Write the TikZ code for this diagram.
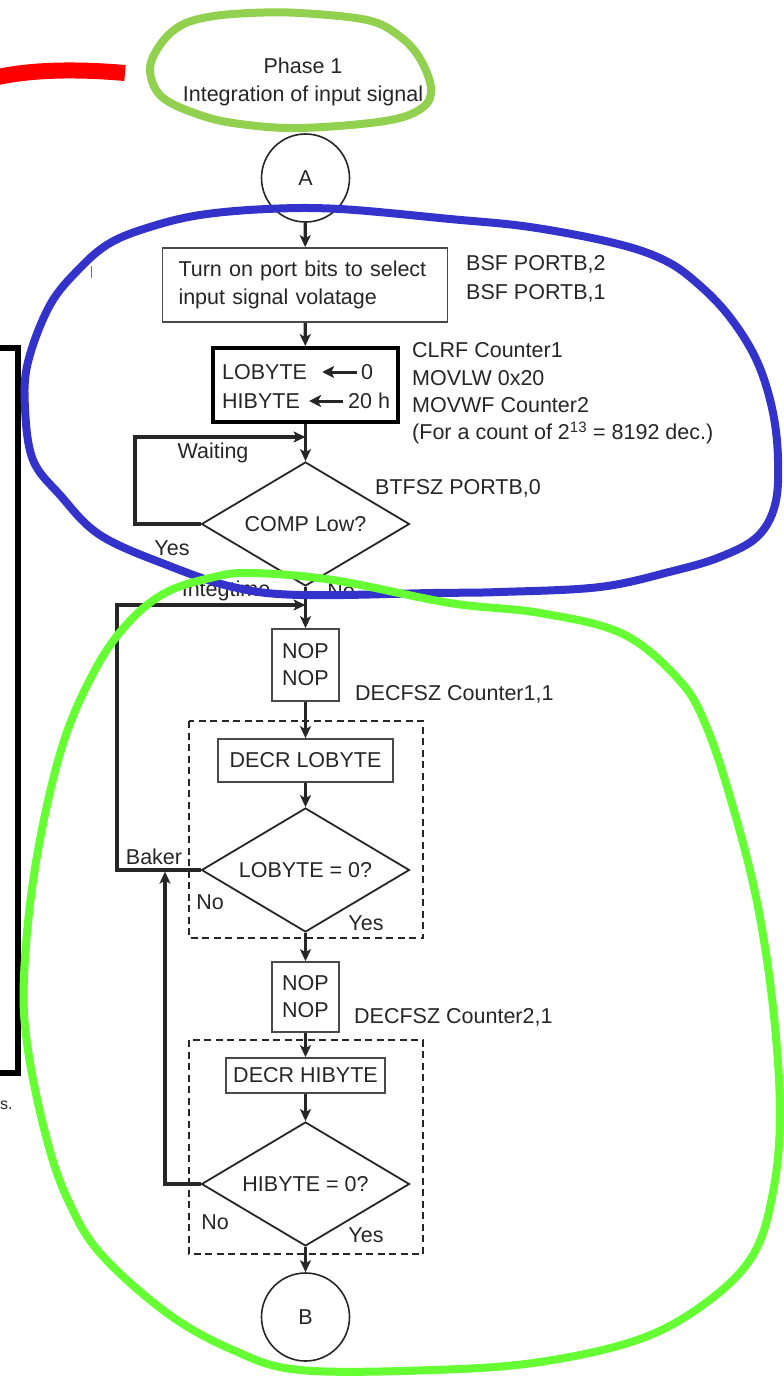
\documentclass[tikz,border=0pt]{standalone}
\usepackage{fontspec}
\setmainfont{Liberation Sans}
\usetikzlibrary{shapes.geometric,arrows.meta}
\definecolor{ink}{HTML}{262626}
\definecolor{frame}{HTML}{4A4A4A}
\definecolor{markred}{HTML}{FF0000}
\definecolor{markblue}{HTML}{3333CC}
\definecolor{markgreen}{HTML}{66FF33}
\definecolor{marklime}{HTML}{92D050}
\begin{document}
\begin{tikzpicture}[x=1pt,y=-1pt,
  font=\fontsize{21.5}{28}\selectfont, text=ink,
  txt/.style={inner sep=0pt, text height=15.4pt, text depth=0pt},
  procbox/.style={draw=frame, line width=1.7pt, inner sep=0pt},
  connector/.style={draw=ink, circle, line width=1.6pt, inner sep=0pt, minimum size=88pt},
  decision/.style={draw=ink, diamond, line width=1.8pt, inner sep=0pt,
    aspect=1.68, minimum width=208pt, minimum height=124pt},
  flow/.style={draw=ink, line width=3.2pt, -{Stealth[length=12pt,width=11pt,inset=3pt]}},
  setarrow/.style={draw=ink, line width=3pt, -{Stealth[length=12pt,width=12pt,inset=3pt]}},
  group/.style={draw=ink, line width=2.3pt, dash pattern=on 7pt off 4.5pt},
  hilite/.style={line width=8pt, line join=round},
]
\useasboundingbox (0,0) rectangle (784,1384);

% ---- title and entry connector
\node[inner sep=0pt, align=center] (title) at (303,82) {Phase 1\\Integration of input signal};
\node[connector] (A) at (305.5,178) {A};

% ---- port selection
\node[procbox, minimum width=285pt, minimum height=74pt, text width=253pt,
      inner xsep=16pt, align=left] (b1) at (305,285)
      {Turn on port bits to select\\input signal volatage};
\node[txt, anchor=west] (bsf2) at (466,263) {BSF PORTB,2};
\node[txt, anchor=west] (bsf1) at (466,292) {BSF PORTB,1};

% ---- counter initialisation
\node[draw=black, line width=3.8pt, minimum width=185pt, minimum height=74pt, inner sep=0pt] (b2) at (305.5,385) {};
\node[txt, anchor=west] (lo) at (222,372) {LOBYTE};
\node[txt, anchor=west] (lov) at (361,372) {0};
\node[txt, anchor=west] (hi) at (222,401) {HIBYTE};
\node[txt, anchor=west] (hiv) at (348,401) {20 h};
\draw[setarrow] ([xshift=-4pt]lov.west) -- ([xshift=15pt]lo.east);
\draw[setarrow] ([xshift=-5pt]hiv.west) -- ([xshift=9pt]hi.east);

\node[txt, anchor=west] (c1) at (412,350) {CLRF Counter1};
\node[txt, anchor=west] (c2) at (412,378) {MOVLW 0x20};
\node[txt, anchor=west] (c3) at (412,405) {MOVWF Counter2};
\node[txt, anchor=west] (c4) at (412,432) {(For a count of 2\textsuperscript{13} = 8192 dec.)};

% ---- wait for comparator
\node[decision] (d1) at (305.5,524) {COMP Low?};
\node[txt, anchor=west] (btfsz) at (375,487) {BTFSZ PORTB,0};
\coordinate (wj) at (305.5,437);
\node[txt] (waiting) at (213,451) {Waiting};
\node[txt] (yes1) at (172,548) {Yes};
\node[txt] (integ) at (226,589) {Integtime};
\node[txt] (no1) at (341,591) {No};

% ---- low byte loop
\node[procbox, minimum width=67pt, minimum height=72pt, align=center,
      font=\fontsize{21.5}{27}\selectfont] (nop1) at (305.5,665) {NOP\\NOP};
\node[txt, anchor=west] (dec1) at (355,693) {DECFSZ Counter1,1};
\draw[group] (189,721) rectangle (423,938);
\node[procbox, minimum width=175pt, minimum height=43pt] (dlo) at (305.5,760.5) {DECR LOBYTE};
\node[decision] (d2) at (305.5,870) {LOBYTE = 0?};
\node[txt] (baker) at (154,857) {Baker};
\node[txt] (no2) at (210,902) {No};
\node[txt] (yes2) at (366,923) {Yes};
\coordinate (ij) at (305.5,605);

% ---- high byte loop
\node[procbox, minimum width=67pt, minimum height=70pt, align=center,
      font=\fontsize{21.5}{27}\selectfont] (nop2) at (305.5,997) {NOP\\NOP};
\node[txt, anchor=west] (dec2) at (354,1016) {DECFSZ Counter2,1};
\draw[group] (189,1040) rectangle (423,1254);
\node[procbox, minimum width=159pt, minimum height=35pt] (dhi) at (305.5,1075.5) {DECR HIBYTE};
\node[decision] (d3) at (305.5,1184) {HIBYTE = 0?};
\node[txt] (no3) at (215,1222) {No};
\node[txt] (yes3) at (366,1235) {Yes};
\coordinate (bj) at (165,870);

\node[connector] (B) at (305.5,1317) {B};

% ---- connectors
\draw[flow] (A) -- (b1);
\draw[flow] (b1) -- (b2);
\draw[flow] (b2) -- (d1);
\draw[flow] (d1.west) -- (135,524) |- (wj);
\draw[flow] (d1) -- (nop1);
\draw[flow] (d2.west) -- (117,870) |- (ij);
\draw[flow] (nop1) -- (dlo);
\draw[flow] (dlo) -- (d2);
\draw[flow] (d2) -- (nop2);
\draw[flow, shorten >=1.6pt] (d3.west) -| (bj);
\draw[flow] (nop2) -- (dhi);
\draw[flow] (dhi) -- (d3);
\draw[flow] (d3) -- (B);

% ---- margin remnants
\draw[black!55, line width=1pt] (91,266) -- (91,278);
\node[inner sep=0pt, anchor=base west, font=\fontsize{16}{16}\selectfont] (cut) at (0,1109) {s.};
\draw[black, line width=6pt] (-10,348) -- (18,348) -- (18,1073) -- (-10,1073);

% ---- hand-drawn highlights
\draw[markred, line width=16pt] (-2,77) .. controls (40,68) and (90,70) .. (125,73);
\draw[hilite, marklime] plot[smooth cycle, tension=0.6] coordinates {
  (150,70) (160,45) (180,26) (208,17) (250,13) (300,13) (367,20) (398,35)
  (419,57) (431,88) (422,108) (385,121) (300,128) (240,124) (200,115) (162,97)};
\draw[hilite, markblue] plot[smooth cycle, tension=0.6] coordinates {
  (200,215) (267,209) (340,209) (450,219) (530,227) (614,243) (664,260)
  (697,283) (729,316) (756,359) (772,408) (778,458) (775,505) (757,537)
  (720,557) (673,571) (600,587) (500,592) (433,593) (300,595) (233,587)
  (167,565) (100,535) (60,495) (33,460) (25,408) (28,362) (50,305)
  (80,268) (110,243) (150,227)};
\draw[hilite, markgreen] plot[smooth cycle, tension=0.6] coordinates {
  (210,578) (250,573) (333,580) (450,603) (540,613) (623,634) (680,681)
  (707,728) (733,807) (757,902) (773,1007) (780,1113) (773,1192) (753,1255)
  (707,1302) (640,1339) (540,1362) (433,1370) (300,1370) (233,1350)
  (167,1313) (100,1253) (68,1200) (47,1140) (28,1050) (24,976) (36,862)
  (62,747) (95,670) (128,623) (165,593)};
\end{tikzpicture}
\end{document}
